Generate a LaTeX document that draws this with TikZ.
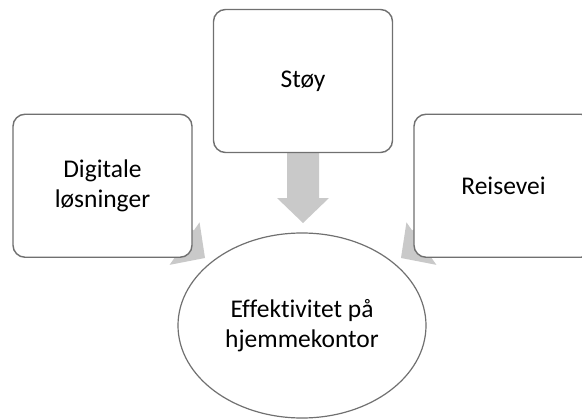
\documentclass[tikz,border=0pt]{standalone}
\usepackage{fontspec}
\setmainfont{Carlito}[Ligatures=NoCommon]
\usetikzlibrary{calc,shapes.geometric}
\pgfdeclarelayer{background}
\pgfsetlayers{background,main}
\definecolor{edgegray}{RGB}{112,112,112}
\definecolor{arrowgray}{RGB}{201,201,201}
\tikzset{
  topic/.style={draw=edgegray, line width=1.4pt, fill=white, rounded corners=12pt,
    minimum width=179pt, minimum height=143pt, inner sep=0pt, align=center,
    font=\fontsize{25.5}{29.5}\selectfont},
  goal/.style={ellipse, draw=edgegray, line width=1.2pt, fill=white,
    minimum width=248pt, minimum height=185pt, inner sep=0pt, align=center,
    font=\fontsize{25.5}{29.5}\selectfont},
  arrowfill/.style={fill=arrowgray}
}
% broad block arrow from the centre of #1 to the tip #2
\newcommand\fatarrow[2]{%
  \path ($(#2)!25pt!(#1)$) coordinate (hb);
  \fill[arrowfill] ($(#1)!16pt!90:(#2)$) -- ($(hb)!16pt!-90:(#1)$)
    -- ($(hb)!26pt!-90:(#1)$) -- (#2) -- ($(hb)!26pt!90:(#1)$)
    -- ($(hb)!16pt!90:(#1)$) -- ($(#1)!16pt!-90:(#2)$) -- cycle;
}
\begin{document}
\begin{tikzpicture}[x=1pt,y=-1pt]
  \useasboundingbox (0,0) rectangle (582,420);
  \clip (0,0) rectangle (582,420);

  % the three influences
  \node[topic] (dig)   at (102.5,185.75) {Digitale\\løsninger};
  \node[topic] (stoy)  at (303,81)       {Støy};
  \node[topic] (reise) at (503.5,185.75) {Reisevei};

  % the outcome
  \node[goal] (eff) at (302,325.5) {Effektivitet på\\hjemmekontor};

  % arrow tips just short of the ellipse
  \coordinate (tipL) at (205,258);
  \coordinate (tipT) at (303,223);
  \coordinate (tipR) at (401,258);

  \begin{pgfonlayer}{background}
    \fill[white] (0,0) rectangle (582,420);
    \fatarrow{dig}{tipL}
    \fatarrow{stoy}{tipT}
    \fatarrow{reise}{tipR}
  \end{pgfonlayer}
\end{tikzpicture}
\end{document}
